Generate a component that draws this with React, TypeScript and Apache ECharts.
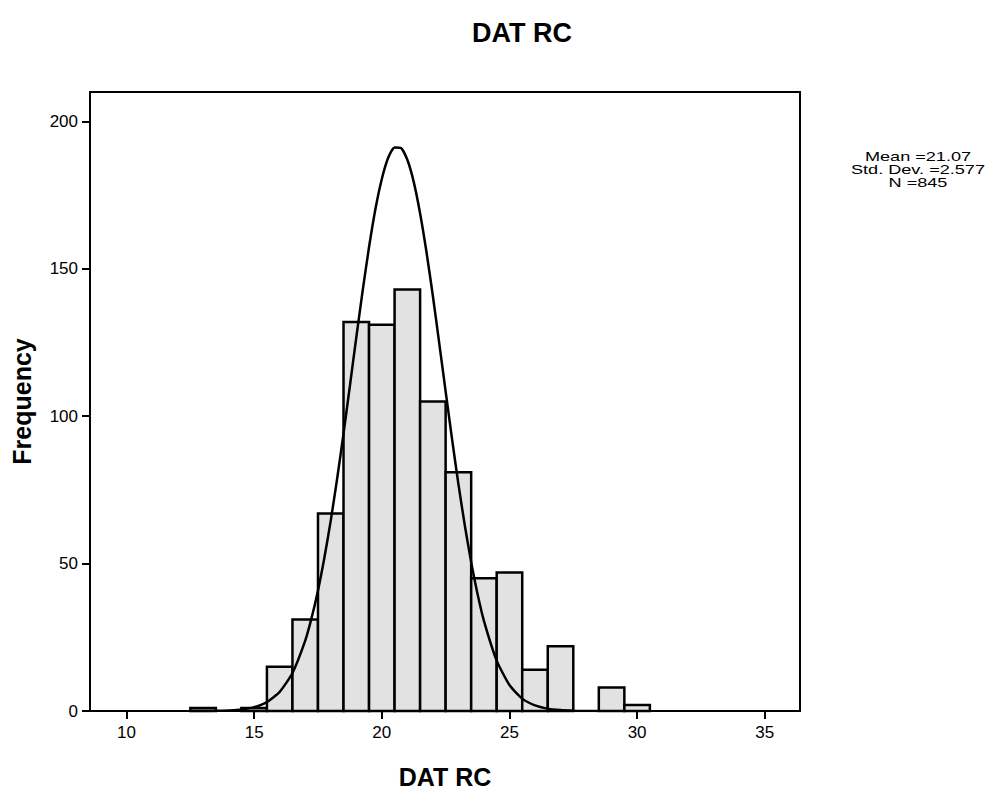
import React, { useEffect, useRef } from "react";
import * as echarts from "echarts";

const chartTitle = "DAT RC";
const xAxisTitle = "DAT RC";
const yAxisTitle = "Frequency";
const statsLines = ["Mean =21.07", "Std. Dev. =2.577", "N =845"];

const xTicks = [10, 15, 20, 25, 30, 35];
const yTicks = [0, 50, 100, 150, 200];
const binCenters = [13, 15, 16, 17, 18, 19, 20, 21, 22, 23, 24, 25, 26, 27, 29, 30];
const binCounts = [1, 1, 15, 31, 67, 132, 131, 143, 105, 81, 45, 47, 14, 22, 8, 2];

// normal curve
const curveX = [
  12.5, 13, 13.5, 14, 14.5, 15, 15.5, 16, 16.5, 17, 17.25, 17.5, 17.75, 18, 18.25, 18.5, 18.75,
  19, 19.25, 19.5, 19.75, 20, 20.25, 20.5, 20.75, 21, 21.25, 21.5, 21.75, 22, 22.25, 22.5, 22.75,
  23, 23.25, 23.5, 23.75, 24, 24.5, 25, 25.5, 26, 26.5, 27, 27.5, 28, 28.5,
];
const curveY = [
  0, 0.02, 0.05, 0.2, 0.5, 1.3, 3.0, 6.5, 12.9, 23.9, 31.6, 40.9, 52, 64.6, 78.8, 94.1, 110.3,
  126.7, 142.6, 157.4, 170.3, 180.5, 187.7, 191.2, 191.0, 187.0, 179.5, 168.8, 155.7, 140.8, 124.7, 108.4, 92.3,
  77.0, 63.0, 50.5, 39.7, 30.6, 17.1, 8.8, 4.2, 1.9, 0.8, 0.3, 0.1, 0, 0,
];

const FONT = "'Liberation Sans', Arial, Helvetica, sans-serif";

export default function App() {
  const ref = useRef<HTMLDivElement>(null);
  useEffect(() => {
    if (!ref.current) return;
    const chart = echarts.init(ref.current, undefined, { renderer: "svg" });
    const bars = binCenters.map((c, i) => [c, binCounts[i]]);
    const curve = curveX.map((x, i) => [x, curveY[i]]);
    chart.setOption({
      animation: false,
      backgroundColor: "#ffffff",
      grid: {
        left: 90,
        right: 208,
        top: 92,
        bottom: 83,
        show: true,
        borderColor: "#000",
        borderWidth: 2,
        backgroundColor: "transparent",
      },
      xAxis: {
        type: "value",
        min: 8.57,
        max: 36.38,
        name: xAxisTitle,
        nameLocation: "middle",
        nameGap: 53,
        nameTextStyle: { fontSize: 25, fontWeight: "bold", color: "#000", fontFamily: FONT },
        axisLine: { show: true, onZero: false, lineStyle: { color: "#000", width: 2 } },
        axisTick: { show: true, length: 8, customValues: xTicks, lineStyle: { color: "#000", width: 2 } },
        axisLabel: { customValues: xTicks, fontSize: 17, color: "#000", fontFamily: FONT, margin: 13 },
        splitLine: { show: false },
      },
      yAxis: {
        type: "value",
        min: 0,
        max: 210,
        name: yAxisTitle,
        nameLocation: "middle",
        nameGap: 56,
        nameTextStyle: { fontSize: 25, fontWeight: "bold", color: "#000", fontFamily: FONT },
        axisLine: { show: true, lineStyle: { color: "#000", width: 2 } },
        axisTick: { show: true, length: 8, customValues: yTicks, lineStyle: { color: "#000", width: 2 } },
        axisLabel: { customValues: yTicks, fontSize: 17, color: "#000", fontFamily: FONT, margin: 12 },
        splitLine: { show: false },
      },
      graphic: [
        {
          type: "text",
          x: 522,
          y: 33,
          style: {
            text: chartTitle,
            fontSize: 27,
            fontWeight: "bold",
            fontFamily: FONT,
            fill: "#000",
            align: "center",
            verticalAlign: "middle",
          },
        },
        ...statsLines.map((line, i) => ({
          type: "text",
          x: 918,
          y: 157 + i * 13,
          scaleX: 1.45,
          style: {
            text: line,
            fontSize: 12.5,
            fontFamily: FONT,
            fill: "#000",
            align: "center",
            verticalAlign: "middle",
          },
        })),
      ],
      series: [
        {
          type: "custom",
          data: bars,
          encode: { x: 0, y: 1 },
          renderItem: (params: any, api: any) => {
            const c = api.value(0);
            const v = api.value(1);
            const p0 = api.coord([c - 0.5, v]);
            const p1 = api.coord([c + 0.5, 0]);
            return {
              type: "rect",
              shape: { x: p0[0], y: p0[1], width: p1[0] - p0[0], height: p1[1] - p0[1] },
              style: { fill: "#e2e2e2", stroke: "#000", lineWidth: 2.5 },
            };
          },
          z: 2,
        },
        {
          type: "line",
          data: curve,
          smooth: 0.2,
          showSymbol: false,
          symbol: "none",
          lineStyle: { color: "#000", width: 2.5 },
          z: 3,
        },
      ],
    });
    return () => chart.dispose();
  }, []);
  return (
    <div
      ref={ref}
      style={{ position: "fixed", left: 0, top: 0, width: 1008, height: 794, background: "#fff" }}
    />
  );
}
